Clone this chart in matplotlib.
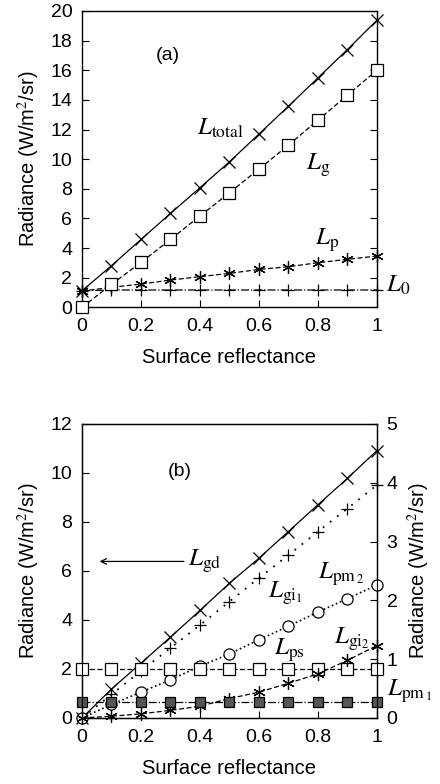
import matplotlib
matplotlib.use("Agg")
import matplotlib.pyplot as plt
import numpy as np

plt.rcParams['font.family'] = ['Liberation Sans', 'DejaVu Sans']
plt.rcParams['mathtext.fontset'] = 'stix'

refl = [0, 0.1, 0.2, 0.3, 0.4, 0.5, 0.6, 0.7, 0.8, 0.9, 1.0]

# panel (a)
L_total = [1.12, 2.81, 4.58, 6.34, 8.07, 9.82, 11.69, 13.57, 15.48, 17.39, 19.37]
L_g = [0.0, 1.55, 3.03, 4.58, 6.16, 7.73, 9.33, 10.94, 12.63, 14.31, 16.0]
L_p = [1.10, 1.35, 1.57, 1.84, 2.07, 2.29, 2.56, 2.74, 3.01, 3.24, 3.46]
L_0 = [1.12, 1.17, 1.17, 1.17, 1.17, 1.17, 1.17, 1.17, 1.17, 1.17, 1.17]

# panel (b) left axis
L_gd = [0.0, 1.18, 2.24, 3.30, 4.39, 5.50, 6.52, 7.61, 8.70, 9.78, 10.91]
# panel (b) right axis
L_gi1 = [0.0, 0.40, 0.80, 1.19, 1.58, 1.98, 2.38, 2.77, 3.17, 3.56, 3.96]
L_pm2 = [0.0, 0.23, 0.44, 0.65, 0.88, 1.09, 1.33, 1.56, 1.80, 2.03, 2.26]
L_ps = [0.83] * 11
L_gi2 = [0.0, 0.03, 0.07, 0.13, 0.20, 0.33, 0.44, 0.59, 0.75, 0.98, 1.23]
L_pm1 = [0.28] * 11

xticks = [0, 0.2, 0.4, 0.6, 0.8, 1]
xticklabels = ['0', '0.2', '0.4', '0.6', '0.8', '1']

fig = plt.figure(figsize=(4.4, 7.84), dpi=100)
ax1 = fig.add_axes([0.1864, 0.608, 0.670, 0.378])
ax2 = fig.add_axes([0.1864, 0.0842, 0.670, 0.375])

fs = 14
lfs = 14.5
lw = 0.9
k = 'black'

def style(ax):
    ax.tick_params(direction='in', labelsize=fs, length=5, width=0.8)
    ax.tick_params(axis='y', pad=7)
    ax.tick_params(axis='x', pad=8)
    for s in ax.spines.values():
        s.set_linewidth(1.0)
    ax.set_xlim(0, 1)
    ax.set_xticks(xticks)
    ax.set_xticklabels(xticklabels)
    ax.set_xlabel('Surface reflectance', fontsize=lfs, labelpad=9)

# (a)
ax1.plot(refl, L_total, '-', color=k, lw=lw, marker='x', ms=8, mew=0.9, clip_on=False, zorder=5)
ax1.plot(refl, L_g, '--', color=k, lw=lw, marker='s', ms=8, mfc='white', mew=0.9, clip_on=False, dashes=(4, 2), zorder=4)
ax1.plot(refl, L_p, '--', color=k, lw=lw, marker=(6, 2, 0), ms=9, mew=0.9, clip_on=False, dashes=(4, 2), zorder=3)
ax1.plot(refl, L_0, '-.', color=k, lw=lw, marker='+', ms=9, mew=0.9, clip_on=False, zorder=2)
ax1.set_ylim(0, 20)
ax1.set_yticks(range(0, 21, 2))
style(ax1)
ax1.tick_params(right=True)
ax1.set_ylabel('Radiance (W/m$^2$/sr)', fontsize=lfs, labelpad=6)
ax1.text(0.29, 17.0, '(a)', fontsize=fs, ha='center', va='center')
tf = 18
ax1.text(0.39, 12.1, r'$L_{\rm total}$', fontsize=tf, ha='left', va='center')
ax1.text(0.76, 9.6, r'$L_{\rm g}$', fontsize=tf, ha='left', va='center')
ax1.text(0.79, 4.5, r'$L_{\rm p}$', fontsize=tf, ha='left', va='center')
ax1.text(1.03, 1.5, r'$L_{0}$', fontsize=tf, ha='left', va='center')

# (b)
ax2r = ax2.twinx()
ax2.plot(refl, L_gd, '-', color=k, lw=lw, marker='x', ms=8, mew=0.9, clip_on=False, zorder=5)
ax2r.plot(refl, L_gi1, ':', color=k, lw=1.3, marker='+', ms=9, mew=0.9, clip_on=False, dashes=(1, 4))
ax2r.plot(refl, L_pm2, ':', color=k, lw=1.2, marker='o', ms=8, mfc='white', mew=0.9, clip_on=False)
ax2r.plot(refl, L_ps, '--', color=k, lw=lw, marker='s', ms=8, mfc='white', mew=0.9, clip_on=False, dashes=(4, 2))
ax2r.plot(refl, L_gi2, '--', color=k, lw=lw, marker=(6, 2, 0), ms=9, mew=0.9, clip_on=False, dashes=(4, 2))
ax2r.plot(refl, L_pm1, '-.', color=k, lw=lw, marker='s', ms=7, mfc='#555555', mec=k, mew=0.9, clip_on=False)
ax2.set_ylim(0, 12)
ax2.set_yticks(range(0, 13, 2))
ax2r.set_ylim(0, 5)
ax2r.set_yticks(range(0, 6))
style(ax2)
ax2r.tick_params(direction='in', labelsize=fs, length=5, width=0.8, pad=7)
ax2.set_ylabel('Radiance (W/m$^2$/sr)', fontsize=lfs, labelpad=6)
ax2r.set_ylabel('Radiance (W/m$^2$/sr)', fontsize=lfs, labelpad=6)
ax2.text(0.33, 10.05, '(b)', fontsize=fs, ha='center', va='center')
ax2.annotate('', xy=(0.05, 6.39), xytext=(0.355, 6.39),
             arrowprops=dict(arrowstyle='->', color=k, lw=0.9))
ax2.text(0.36, 6.39, r'$L_{\rm gd}$', fontsize=tf, ha='left', va='center')
ax2.text(0.63, 5.1, r'$L_{{\rm gi}_1}$', fontsize=tf, ha='left', va='center')
ax2.text(0.80, 5.85, r'$L_{{\rm pm}\,_2}$', fontsize=tf, ha='left', va='center')
ax2.text(0.855, 3.2, r'$L_{{\rm gi}_2}$', fontsize=tf, ha='left', va='center')
ax2.text(0.65, 2.75, r'$L_{\rm ps}$', fontsize=tf, ha='left', va='center')
ax2.text(1.035, 1.1, r'$L_{{\rm pm}\,_1}$', fontsize=tf, ha='left', va='center')

fig.savefig('out.png', dpi=100)
